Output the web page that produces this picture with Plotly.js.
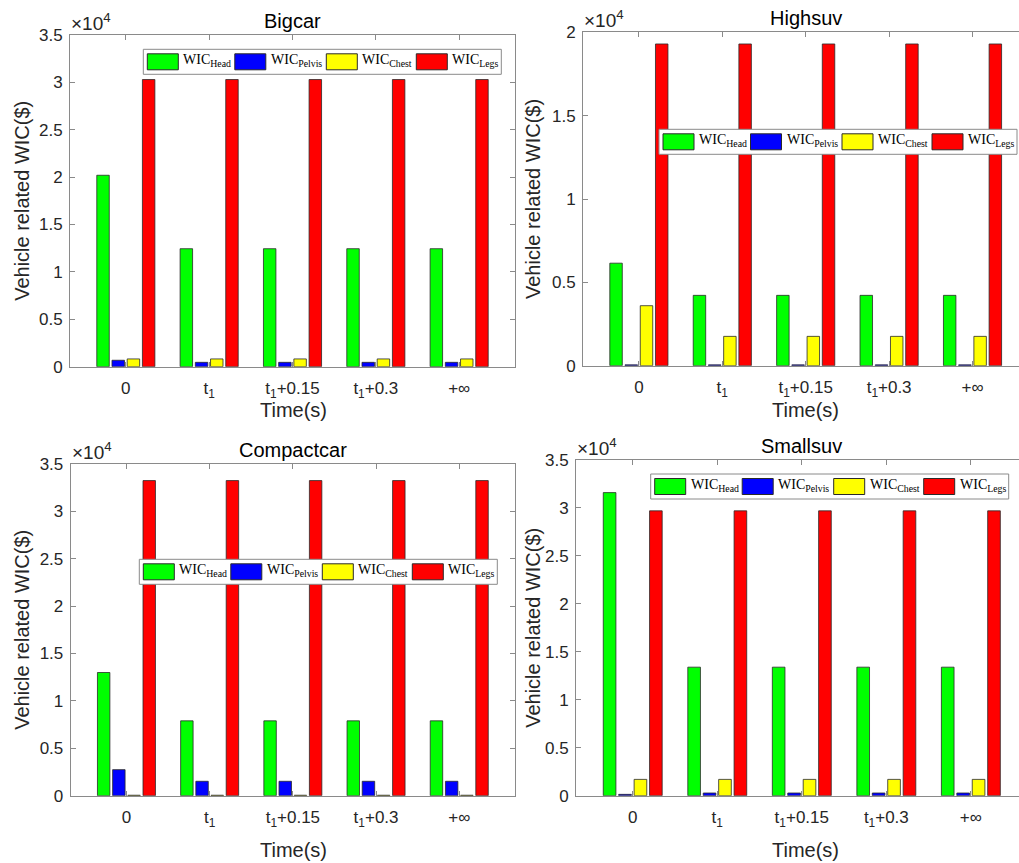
<!DOCTYPE html>
<html>
<head>
<meta charset="utf-8">
<script src="https://cdn.plot.ly/plotly-3.0.1.min.js"></script>
<style>
html,body{margin:0;padding:0;background:#fff;overflow:hidden;}
#chart{width:1035px;height:863px;}
</style>
</head>
<body>
<div id="chart"></div>
<script>
// ---------- data ----------
const timeLabels = ['0', 't<sub>1</sub>', 't<sub>1</sub>+0.15', 't<sub>1</sub>+0.3', '+∞'];
const timePos = [1, 2, 3, 4, 5];
const seriesNames = ['Head', 'Pelvis', 'Chest', 'Legs'];
const seriesColors = ['#00ff00', '#0000ff', '#ffff00', '#ff0000'];
const panelTitles = ['Bigcar', 'Highsuv', 'Compactcar', 'Smallsuv'];

const bigcarHead   = [20200, 12450, 12450, 12450, 12450];
const bigcarPelvis = [680, 460, 460, 460, 460];
const bigcarChest  = [820, 820, 820, 820, 820];
const bigcarLegs   = [30300, 30300, 30300, 30300, 30300];

const highsuvHead   = [6150, 4220, 4220, 4220, 4220];
const highsuvPelvis = [50, 50, 50, 50, 50];
const highsuvChest  = [3600, 1760, 1760, 1760, 1760];
const highsuvLegs   = [19300, 19300, 19300, 19300, 19300];

const compactHead   = [13000, 7900, 7900, 7900, 7900];
const compactPelvis = [2750, 1520, 1520, 1520, 1520];
const compactChest  = [50, 50, 50, 50, 50];
const compactLegs   = [33250, 33250, 33250, 33250, 33250];

const smallsuvHead   = [31600, 13400, 13400, 13400, 13400];
const smallsuvPelvis = [140, 280, 280, 280, 280];
const smallsuvChest  = [1700, 1700, 1700, 1700, 1700];
const smallsuvLegs   = [29700, 29700, 29700, 29700, 29700];

const yTicks35 = [0, 5000, 10000, 15000, 20000, 25000, 30000, 35000];
const yText35 = ['0', '0.5', '1', '1.5', '2', '2.5', '3', '3.5'];
const yTicks20 = [0, 5000, 10000, 15000, 20000];
const yText20 = ['0', '0.5', '1', '1.5', '2'];

const yAxisTitle = 'Vehicle related WIC($)';
const xAxisTitle = 'Time(s)';
const exponentText = '×10<sup>4</sup>';

// ---------- geometry (pixels) ----------
const W = 1035, H = 863;
const fx = x => x / W;
const fy = y => 1 - y / H;

const panels = [
  {data: [bigcarHead, bigcarPelvis, bigcarChest, bigcarLegs], box: [70, 515, 35, 366.7], ymax: 35000, yt: yTicks35, ytt: yText35, leg: [143.3, 49.3], xt: 43},
  {data: [highsuvHead, highsuvPelvis, highsuvChest, highsuvLegs], box: [583, 1028.4, 32.3, 365.7], ymax: 20000, yt: yTicks20, ytt: yText20, leg: [659, 129.3], xt: 44},
  {data: [compactHead, compactPelvis, compactChest, compactLegs], box: [70.7, 515, 464, 795.7], ymax: 35000, yt: yTicks35, ytt: yText35, leg: [139.3, 559.3], xt: 54},
  {data: [smallsuvHead, smallsuvPelvis, smallsuvChest, smallsuvLegs], box: [576.1, 1027.5, 460, 795.7], ymax: 35000, yt: yTicks35, ytt: yText35, leg: [650.7, 474], xt: 54}
];

const axisColor = '#8a8a8a';
const textColor = '#262626';
const sansFont = 'Liberation Sans, Arial, Helvetica, sans-serif';
const serifFont = 'Liberation Serif, Times New Roman, serif';

const traces = [];
const layout = {
  width: W, height: H,
  margin: {l: 0, r: 0, t: 0, b: 0},
  paper_bgcolor: '#ffffff',
  plot_bgcolor: '#ffffff',
  barmode: 'group',
  bargap: 0.27,
  bargroupgap: 0.18,
  showlegend: false,
  font: {family: sansFont, color: textColor},
  shapes: [],
  annotations: []
};

panels.forEach((p, i) => {
  const n = i === 0 ? '' : String(i + 1);
  const [x0, x1, y0, y1] = p.box;
  p.data.forEach((vals, s) => {
    traces.push({
      type: 'bar',
      x: timePos,
      y: vals,
      name: 'WIC ' + seriesNames[s],
      xaxis: 'x' + n,
      yaxis: 'y' + n,
      marker: {color: seriesColors[s], line: {color: '#2a2a2a', width: 0.8}},
      hoverinfo: 'y'
    });
  });
  layout['xaxis' + n] = {
    domain: [fx(x0), fx(x1)],
    anchor: 'y' + n,
    range: [0.33, 5.67],
    tickvals: timePos,
    ticktext: timeLabels,
    ticks: 'inside', ticklen: 5, tickcolor: axisColor,
    ticklabelstandoff: 6,
    showline: true, linecolor: axisColor, linewidth: 1, mirror: 'ticks',
    showgrid: false, zeroline: false,
    tickfont: {size: 17, color: textColor, family: sansFont},
    fixedrange: true
  };
  layout['yaxis' + n] = {
    domain: [fy(y1), fy(y0)],
    anchor: 'x' + n,
    range: [0, p.ymax],
    tickvals: p.yt,
    ticktext: p.ytt,
    ticks: 'inside', ticklen: 5, tickcolor: axisColor,
    ticklabelstandoff: 3,
    showline: true, linecolor: axisColor, linewidth: 1, mirror: 'ticks',
    showgrid: false, zeroline: false,
    tickfont: {size: 17, color: textColor, family: sansFont},
    fixedrange: true
  };
  const cx = (x0 + Math.min(x1, 1028)) / 2;
  // panel title
  layout.annotations.push({
    text: panelTitles[i], xref: 'paper', yref: 'paper',
    x: fx(cx), y: fy(y0 - 1), xanchor: 'center', yanchor: 'bottom',
    showarrow: false, font: {size: 20, color: '#000', family: sansFont}
  });
  // exponent label
  layout.annotations.push({
    text: exponentText, xref: 'paper', yref: 'paper',
    x: fx(x0 - 1), y: fy(y0 + 1), xanchor: 'left', yanchor: 'bottom',
    showarrow: false, font: {size: 19, color: textColor, family: sansFont}
  });
  // y axis title
  layout.annotations.push({
    text: yAxisTitle, xref: 'paper', yref: 'paper',
    x: fx(i % 2 === 0 ? 22 : 533), y: fy((y0 + y1) / 2), xanchor: 'center', yanchor: 'middle',
    textangle: -90,
    showarrow: false, font: {size: 20, color: textColor, family: sansFont}
  });
  // x axis title
  layout.annotations.push({
    text: xAxisTitle, xref: 'paper', yref: 'paper',
    x: fx(i % 2 === 0 ? 293 : 805), y: fy(y1 + p.xt), xanchor: 'center', yanchor: 'middle',
    showarrow: false, font: {size: 20, color: textColor, family: sansFont}
  });
  // custom legend
  const [lx, ly] = p.leg;
  const boxW = 358, boxH = 25;
  layout.shapes.push({
    type: 'rect', xref: 'paper', yref: 'paper',
    x0: fx(lx), x1: fx(lx + boxW), y0: fy(ly + boxH), y1: fy(ly),
    fillcolor: '#ffffff', line: {color: '#8a8a8a', width: 1}
  });
  const offs = [4, 91.5, 183, 273];
  seriesNames.forEach((nm, s) => {
    const rx = lx + offs[s];
    layout.shapes.push({
      type: 'rect', xref: 'paper', yref: 'paper',
      x0: fx(rx), x1: fx(rx + 31), y0: fy(ly + 20.5), y1: fy(ly + 4.5),
      fillcolor: seriesColors[s], line: {color: '#2a2a2a', width: 1}
    });
    layout.annotations.push({
      text: 'WIC<sub>' + nm + '</sub>', xref: 'paper', yref: 'paper',
      x: fx(rx + 34), y: fy(ly + 11.5), xanchor: 'left', yanchor: 'middle',
      showarrow: false, font: {size: 14, color: '#000', family: serifFont}
    });
  });
});

Plotly.newPlot('chart', traces, layout, {staticPlot: true, displayModeBar: false});
</script>
</body>
</html>
